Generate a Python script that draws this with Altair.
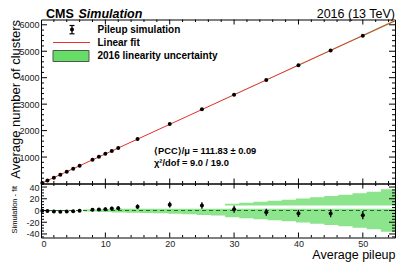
import altair as alt
import pandas as pd

FONT = "Liberation Sans"
RED = "#ee3030"
GREEN = "#8ce48c"
LEG_GREEN = "#66dd66"
DKGREEN = "#1d6e1d"

# ---------------- data ----------------
pileup = [0.2, 1, 2, 3, 4, 5, 6, 8, 9, 10, 11, 12, 15, 20, 25, 30, 35, 40, 45, 50]
clusters = [22, 111, 222, 333, 445, 558, 670, 896, 1008, 1121, 1233, 1346,
            1684, 2247, 2804, 3357, 3911, 4468, 5027, 5584]
residual = [-0.6, -0.8, -1.5, -2.0, -1.8, -1.2, -0.6, 1.2, 1.7, 2.3, 3.3, 4.0,
            6.5, 10.0, 8.5, 2.0, -3.0, -5.0, -5.0, -8.0]
residual_err = [1.5, 1.5, 1.5, 1.5, 1.5, 1.8, 1.8, 2.5, 2.5, 2.8, 3.0, 3.2,
                4.0, 5.0, 5.5, 6.0, 6.0, 6.0, 6.5, 7.0]

fit_slope = 111.83
fit_x = [0.0, 55.0]
fit_y = [0.0, 6150.7]

band_edges = [6.6, 8.8, 11.0, 13.2, 15.4, 17.6, 19.8, 22.0, 24.2, 26.4, 28.6, 30.8,
              33.0, 35.2, 37.4, 39.6, 41.8, 44.0, 46.2, 48.4, 50.6, 52.8, 55.0]
band_half = [1.8, 2.5, 3.5, 4.0, 4.3, 4.8, 5.5, 6.5, 7.5, 8.5, 11.5, 13.2,
             15.0, 16.8, 18.5, 20.5, 22.5, 24.8, 27.0, 29.5, 32.0, 36.0]
gap_lo, gap_hi = 3.0, 8.5

x_labels = [0, 10, 20, 30, 40, 50]
top_y_labels = [1000, 2000, 3000, 4000, 5000, 6000]
bot_y_labels = [-40, -20, 0, 20, 40]

x_major = [10, 20, 30, 40, 50]
x_minor = [v for v in range(2, 55, 2) if v % 10]
top_y_major = top_y_labels
top_y_minor = [v for v in range(200, 6200, 200) if v % 1000]
bot_y_major = bot_y_labels
bot_y_minor = [v for v in range(-45, 46, 5) if v % 20]

# ---------------- layout ----------------
W = 354
H_TOP = 164
H_BOT = 54
XDOM = [0, 55]
YT = [0, 6200]
YB = [-46, 46]


def sc(dom):
    return alt.Scale(domain=dom, nice=False, zero=False)


XS = sc(XDOM)

TOP_X_AX = alt.Axis(labels=False, ticks=False, domain=False, grid=False, title=None)
TOP_Y_AX = alt.Axis(
    values=top_y_labels, format="d", ticks=False, domain=False, grid=False,
    labelFont=FONT, labelFontSize=9, labelPadding=2, labelColor="#222",
    title="Average number of clusters", titleFont=FONT, titleFontSize=13,
    titleFontWeight="normal", titleColor="black", titleAngle=270,
    titleAlign="right", titleBaseline="alphabetic", titleX=-22, titleY=0)
BOT_X_AX = alt.Axis(
    values=x_labels, ticks=False, domain=False, grid=False,
    labelFont=FONT, labelFontSize=9, labelPadding=2, labelColor="#222",
    title="Average pileup", titleFont=FONT, titleFontSize=12.5,
    titleFontWeight="normal", titleColor="black", titleAngle=0,
    titleAlign="right", titleBaseline="alphabetic", titleX=W, titleY=20.5)
BOT_Y_AX = alt.Axis(
    values=bot_y_labels, ticks=False, domain=False, grid=False,
    labelFont=FONT, labelFontSize=9, labelPadding=2, labelColor="#222",
    labelExpr="'' + datum.value",
    title="Simulation - fit", titleFont=FONT, titleFontSize=7.5,
    titleFontWeight="normal", titleColor="black", titleAngle=270,
    titleAlign="right", titleBaseline="alphabetic", titleX=-25, titleY=2)

pts = pd.DataFrame({"mu": pileup, "n": clusters, "res": residual, "err": residual_err})
fit = pd.DataFrame({"x": fit_x, "y": fit_y})
band = pd.DataFrame({"x": band_edges, "u": band_half + [band_half[-1]]})
band["lo"] = -band["u"]
band["top1"] = band["u"].clip(upper=gap_lo)
band["up1"] = gap_hi
band["up2"] = band["u"].clip(lower=gap_hi)
zero = pd.DataFrame({"x": fit_x, "y": [0.0, 0.0]})
one = pd.DataFrame({"a": [0]})


def X(field, panel):
    return alt.X(field, scale=XS, axis=TOP_X_AX if panel == "top" else BOT_X_AX)


def Y(field, panel):
    if panel == "top":
        return alt.Y(field, scale=sc(YT), axis=TOP_Y_AX)
    return alt.Y(field, scale=sc(YB), axis=BOT_Y_AX)


def yticks(vals, length, side, panel):
    x0, x1 = (0, length) if side == "left" else (W - length, W)
    return alt.Chart(pd.DataFrame({"v": vals})).mark_rule(color="black", strokeWidth=1).encode(
        y=Y("v:Q", panel), x=alt.value(x0), x2=alt.value(x1))


def xticks(vals, length, side, h, panel):
    y0, y1 = (h - length, h) if side == "bottom" else (0, length)
    return alt.Chart(pd.DataFrame({"v": vals})).mark_rule(color="black", strokeWidth=1).encode(
        x=X("v:Q", panel), y=alt.value(y0), y2=alt.value(y1))


def frame_ticks(h, ymaj, ymin, panel):
    return [
        yticks(ymaj, 6, "left", panel), yticks(ymin, 3, "left", panel),
        yticks(ymaj, 6, "right", panel), yticks(ymin, 3, "right", panel),
        xticks(x_major, 5, "bottom", h, panel), xticks(x_minor, 2.5, "bottom", h, panel),
        xticks(x_major, 5, "top", h, panel), xticks(x_minor, 2.5, "top", h, panel),
    ]


def txt(text, x, y, size, weight="normal", style="normal", align="left", baseline="middle"):
    return alt.Chart(pd.DataFrame({"t": [text]})).mark_text(
        align=align, baseline=baseline, font=FONT, fontSize=size,
        fontWeight=weight, fontStyle=style, color="black").encode(
        x=alt.value(x), y=alt.value(y), text="t:N")


def seg(x, x2, y, y2, color="black", width=1):
    return alt.Chart(one).mark_rule(color=color, strokeWidth=width).encode(
        x=alt.value(x), x2=alt.value(x2), y=alt.value(y), y2=alt.value(y2))


# ---------------- top panel ----------------
top_band = alt.Chart(band).transform_calculate(
    a=f"{fit_slope}*datum.x - datum.u", b=f"{fit_slope}*datum.x + datum.u"
).mark_area(color=GREEN, opacity=1).encode(
    x=X("x:Q", "top"), y=Y("a:Q", "top"), y2="b:Q")

top_fit = alt.Chart(fit).mark_line(color=RED, strokeWidth=1).encode(
    x=X("x:Q", "top"), y=Y("y:Q", "top"))

top_err = alt.Chart(pts).transform_calculate(
    lo="datum.n - datum.err", hi="datum.n + datum.err"
).mark_rule(color="black", strokeWidth=1.2).encode(
    x=X("mu:Q", "top"), y=Y("lo:Q", "top"), y2="hi:Q")

top_pts = alt.Chart(pts).mark_circle(size=16, color="black", opacity=1).encode(
    x=X("mu:Q", "top"), y=Y("n:Q", "top"))

TY = -1.5
legend = [
    seg(31, 31, 6, 14.3, width=1.2),
    seg(28.5, 33.5, 6, 6, width=1.2),
    seg(28.5, 33.5, 14.3, 14.3, width=1.2),
    alt.Chart(one).mark_circle(size=16, color="black", opacity=1).encode(
        x=alt.value(31), y=alt.value(10)),
    txt("Pileup simulation", 56.5, 10, 10, weight="bold"),
    seg(12, 49, 23, 23, color=RED, width=1),
    txt("Linear fit", 56.5, 23, 10, weight="bold"),
    alt.Chart(one).mark_rect(fill=LEG_GREEN, stroke="#555", strokeWidth=1).encode(
        x=alt.value(12), x2=alt.value(48), y=alt.value(31), y2=alt.value(42)),
    txt("2016 linearity uncertainty", 56.5, 36.5, 10, weight="bold"),
    txt("\u27e8PCC\u27e9/\u03bc = 111.83 \u00b1 0.09", 113, 131, 9.3, weight="bold"),
    txt("\u03c7\u00b2/dof = 9.0 / 19.0", 113, 143, 9.3, weight="bold"),
    txt("CMS", 5, TY, 12.5, weight="bold", baseline="alphabetic"),
    txt("Simulation", 37.5, TY, 12.5, weight="bold", style="italic", baseline="alphabetic"),
    txt("2016 (13 TeV)", W, TY, 12.5, align="right", baseline="alphabetic"),
]

top = alt.layer(top_band, top_fit, top_err, top_pts,
                *frame_ticks(H_TOP, top_y_major, top_y_minor, "top"),
                *legend).properties(width=W, height=H_TOP)

# ---------------- bottom panel ----------------
bot_band = alt.Chart(band).mark_area(color=GREEN, opacity=1, interpolate="step-after").encode(
    x=X("x:Q", "bot"), y=Y("lo:Q", "bot"), y2="top1:Q")

bot_band2 = alt.Chart(band).mark_area(color=GREEN, opacity=1, interpolate="step-after").encode(
    x=X("x:Q", "bot"), y=Y("up1:Q", "bot"), y2="up2:Q")

bot_zero = alt.Chart(zero).mark_line(color=DKGREEN, strokeWidth=1, strokeDash=[4, 3]).encode(
    x=X("x:Q", "bot"), y=Y("y:Q", "bot"))

bot_err = alt.Chart(pts).transform_calculate(
    lo="datum.res - datum.err", hi="datum.res + datum.err"
).mark_rule(color="black", strokeWidth=1.3).encode(
    x=X("mu:Q", "bot"), y=Y("lo:Q", "bot"), y2="hi:Q")

bot_pts = alt.Chart(pts).mark_circle(size=16, color="black", opacity=1).encode(
    x=X("mu:Q", "bot"), y=Y("res:Q", "bot"))

bottom = alt.layer(bot_band, bot_band2, bot_zero, bot_err, bot_pts,
                   *frame_ticks(H_BOT, bot_y_major, bot_y_minor, "bot")
                   ).properties(width=W, height=H_BOT)

chart = alt.vconcat(top, bottom, spacing=0, bounds="flush").properties(
    padding={"left": 0, "top": -0.5, "right": 5, "bottom": 5}
).configure_view(stroke="black", strokeWidth=1)

chart.save("out.html", embed_options={"renderer": "svg", "actions": False})
